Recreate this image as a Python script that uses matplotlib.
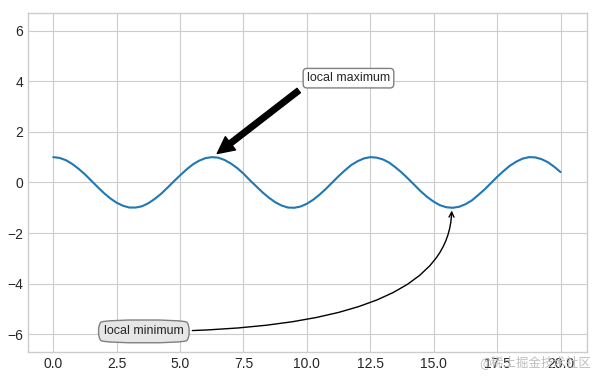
import matplotlib
matplotlib.use("Agg")
import matplotlib.pyplot as plt
import numpy as np

# curve values, step 0.25 along x
x_vals = [i * 0.25 for i in range(81)]
y_vals = [1.00, 0.97, 0.88, 0.73, 0.54, 0.32, 0.07, -0.18, -0.42, -0.63,
          -0.80, -0.92, -0.99, -0.99, -0.94, -0.82, -0.65, -0.45, -0.21, 0.04,
          0.28, 0.51, 0.71, 0.86, 0.96, 1.00, 0.98, 0.89, 0.75, 0.57,
          0.35, 0.09, -0.15, -0.39, -0.60, -0.78, -0.91, -0.99, -1.00, -0.95,
          -0.84, -0.68, -0.48, -0.25, 0.00, 0.25, 0.48, 0.69, 0.84, 0.95,
          1.00, 0.98, 0.91, 0.78, 0.59, 0.38, 0.14, -0.11, -0.36, -0.58,
          -0.76, -0.90, -0.98, -1.00, -0.96, -0.86, -0.71, -0.50, -0.28, -0.03,
          0.22, 0.45, 0.66, 0.82, 0.94, 1.00, 0.99, 0.92, 0.80, 0.62,
          0.41]

max_label = "local maximum"
max_xy = (6.28, 1)
max_text = (10, 4)
min_label = "local minimum"
min_xy = (15.71, -1)
min_text = (2, -6)

plt.style.use("seaborn-v0_8-whitegrid")
fig = plt.figure(figsize=(6.06, 3.77), dpi=100)
ax = fig.add_axes([0.046, 0.066, 0.923, 0.9])

ax.plot(x_vals, y_vals)
ax.set_xlim(-1.0, 21.05)
ax.set_ylim(-6.7, 6.7)
ax.set_xticks(np.arange(0, 20.1, 2.5))
ax.set_yticks([-6, -4, -2, 0, 2, 4, 6])
for sp in ax.spines.values():
    sp.set_visible(True)
    sp.set_color("0.8")

ax.annotate(max_label, xy=max_xy, xytext=max_text, fontsize=9,
            bbox=dict(boxstyle="round", fc="w", ec="0.5"),
            arrowprops=dict(facecolor="black", shrink=0.05))
ax.annotate(min_label, xy=min_xy, xytext=min_text, fontsize=9,
            bbox=dict(boxstyle="round4,pad=.5", fc="0.9", ec="0.5"),
            arrowprops=dict(arrowstyle="->",
                            connectionstyle="angle3,angleA=0,angleB=-90"))

fig.text(0.975, 0.04, "@稀土掘金技术社区", ha="right", va="center",
         fontsize=9, color="0.75", family=["Noto Sans CJK SC", "DejaVu Sans"])

fig.savefig("out.png", dpi=100)
